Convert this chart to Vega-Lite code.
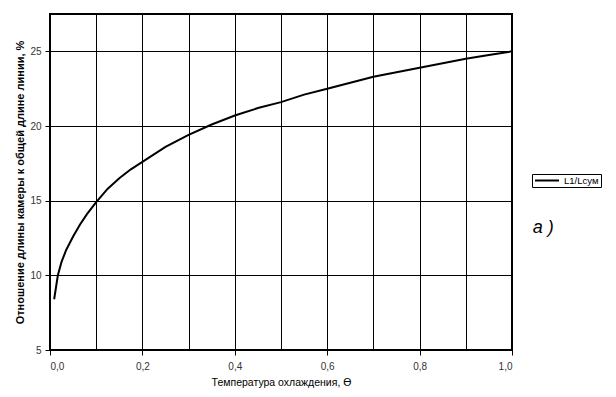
{
  "$schema": "https://vega.github.io/schema/vega-lite/v6.json",
  "width": 462,
  "height": 336,
  "autosize": {"type": "none"},
  "padding": {"left": 50, "top": 14, "right": 104, "bottom": 47},
  "background": "white",
  "config": {
    "font": "Liberation Sans",
    "view": {"stroke": "black", "strokeWidth": 2},
    "axis": {
      "grid": true,
      "gridColor": "black",
      "gridOpacity": 1,
      "gridWidth": 1,
      "domain": false,
      "tickColor": "black",
      "tickSize": 5,
      "labelFont": "Liberation Sans",
      "labelFontSize": 10,
      "labelColor": "#333",
      "titleFont": "Liberation Sans",
      "titleFontSize": 10,
      "titleColor": "black"
    },
    "legend": {
      "orient": "none",
      "legendX": 482,
      "legendY": 160,
      "strokeColor": "black",
      "padding": 2,
      "clipHeight": 9,
      "symbolType": "stroke",
      "symbolSize": 576,
      "symbolStrokeWidth": 2,
      "symbolStrokeColor": "black",
      "labelFont": "Liberation Sans",
      "labelFontSize": 9.5,
      "labelColor": "black",
      "title": null
    }
  },
  "data": {
    "values": [
      {"theta": 0.009, "ratio": 8.4, "series": "L1/Lсум"},
      {"theta": 0.012, "ratio": 9.0, "series": "L1/Lсум"},
      {"theta": 0.017, "ratio": 10.0, "series": "L1/Lсум"},
      {"theta": 0.025, "ratio": 10.9, "series": "L1/Lсум"},
      {"theta": 0.035, "ratio": 11.7, "series": "L1/Lсум"},
      {"theta": 0.05, "ratio": 12.6, "series": "L1/Lсум"},
      {"theta": 0.065, "ratio": 13.4, "series": "L1/Lсум"},
      {"theta": 0.08, "ratio": 14.1, "series": "L1/Lсум"},
      {"theta": 0.1, "ratio": 14.9, "series": "L1/Lсум"},
      {"theta": 0.125, "ratio": 15.8, "series": "L1/Lсум"},
      {"theta": 0.15, "ratio": 16.5, "series": "L1/Lсум"},
      {"theta": 0.175, "ratio": 17.1, "series": "L1/Lсум"},
      {"theta": 0.2, "ratio": 17.6, "series": "L1/Lсум"},
      {"theta": 0.25, "ratio": 18.6, "series": "L1/Lсум"},
      {"theta": 0.3, "ratio": 19.4, "series": "L1/Lсум"},
      {"theta": 0.35, "ratio": 20.1, "series": "L1/Lсум"},
      {"theta": 0.4, "ratio": 20.7, "series": "L1/Lсум"},
      {"theta": 0.45, "ratio": 21.2, "series": "L1/Lсум"},
      {"theta": 0.5, "ratio": 21.6, "series": "L1/Lсум"},
      {"theta": 0.55, "ratio": 22.1, "series": "L1/Lсум"},
      {"theta": 0.6, "ratio": 22.5, "series": "L1/Lсум"},
      {"theta": 0.65, "ratio": 22.9, "series": "L1/Lсум"},
      {"theta": 0.7, "ratio": 23.3, "series": "L1/Lсум"},
      {"theta": 0.75, "ratio": 23.6, "series": "L1/Lсум"},
      {"theta": 0.8, "ratio": 23.9, "series": "L1/Lсум"},
      {"theta": 0.85, "ratio": 24.2, "series": "L1/Lсум"},
      {"theta": 0.9, "ratio": 24.5, "series": "L1/Lсум"},
      {"theta": 0.95, "ratio": 24.75, "series": "L1/Lсум"},
      {"theta": 1.0, "ratio": 25.0, "series": "L1/Lсум"}
    ]
  },
  "layer": [
    {
      "mark": {"type": "line", "strokeWidth": 2, "color": "black"},
      "encoding": {
        "x": {
          "field": "theta",
          "type": "quantitative",
          "scale": {"domain": [0, 1], "nice": false, "zero": false},
          "axis": {
            "title": "Температура охлаждения, ϴ",
            "titleFontWeight": "normal",
            "titleFontSize": 10.5,
            "values": [0, 0.1, 0.2, 0.3, 0.4, 0.5, 0.6, 0.7, 0.8, 0.9, 1.0],
            "labelExpr": "round(datum.value*10) % 2 == 0 ? replace(format(datum.value, '.1f'), '.', ',') : ''",
            "tickOpacity": {"condition": {"test": "round(datum.value*10) % 2 != 0", "value": 0}, "value": 1},
            "labelPadding": 6,
            "titlePadding": 6
          }
        },
        "y": {
          "field": "ratio",
          "type": "quantitative",
          "scale": {"domain": [5, 27.5], "nice": false, "zero": false},
          "axis": {
            "title": "Отношение длины камеры к общей длине линии, %",
            "titleFontWeight": "bold",
            "titleFontSize": 11,
            "values": [5, 7.5, 10, 12.5, 15, 17.5, 20, 22.5, 25, 27.5],
            "labelExpr": "datum.value % 5 == 0 ? format(datum.value, 'd') : ''",
            "tickOpacity": {"condition": {"test": "datum.value % 5 != 0", "value": 0}, "value": 1},
            "labelPadding": 4,
            "titlePadding": 4
          }
        },
        "color": {
          "field": "series",
          "type": "nominal",
          "scale": {"range": ["black"]},
          "legend": {}
        }
      }
    },
    {
      "data": {"values": [{"label": "a )", "theta": 1.045, "ratio": 13.2}]},
      "mark": {"type": "text", "fontSize": 18, "fontStyle": "italic", "fontWeight": "normal", "font": "Liberation Sans", "align": "left", "baseline": "middle", "fill": "black", "stroke": null, "strokeOpacity": 0},
      "encoding": {
        "x": {"field": "theta", "type": "quantitative"},
        "y": {"field": "ratio", "type": "quantitative"},
        "text": {"field": "label"}
      }
    }
  ]
}
